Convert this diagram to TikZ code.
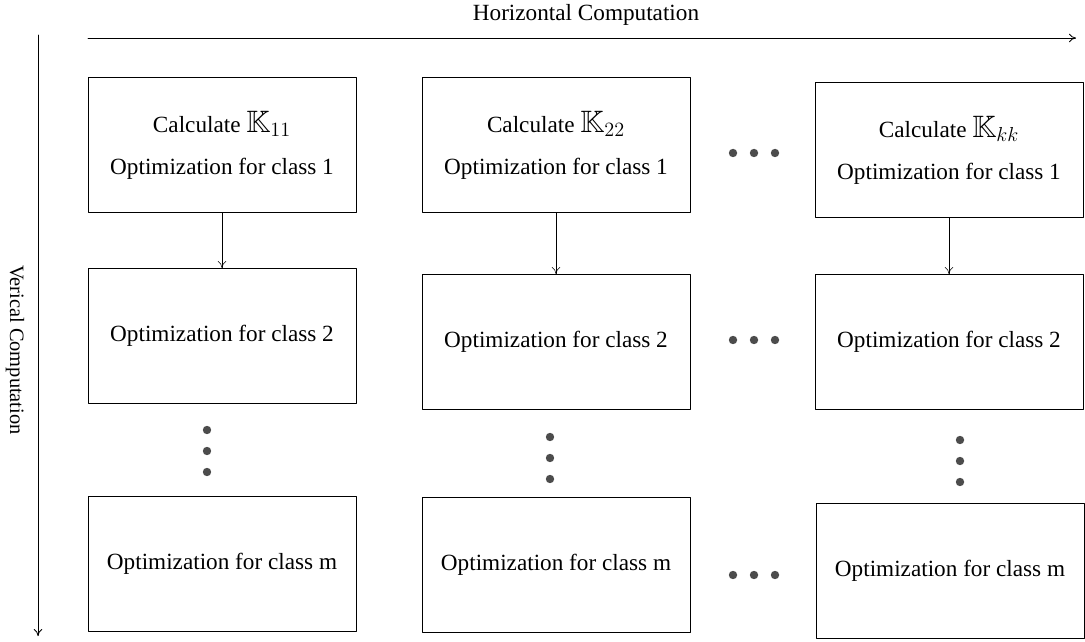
\documentclass[tikz,border=0pt]{standalone}
\usepackage{amsmath,amssymb}
\usepackage{fontspec}
\setmainfont{Liberation Serif}
\usetikzlibrary{positioning,arrows.meta}

\begin{document}
\begin{tikzpicture}[line join=round, line cap=round, x=0.025cm, y=-0.025cm,
    >={To[length=5pt,width=6pt]},
    box/.style={draw, line width=0.6pt, minimum width=6.7cm, minimum height=3.375cm,
      align=center, font=\fontsize{16.5}{30}\selectfont},
    lbl/.style={font=\fontsize{16.5}{20}\selectfont}]
    \useasboundingbox (0,0) rectangle (1085,642);
    % Parameters
    \def\dr{4.2}        % radius of the dots
    \def\dgap{21}       % gap between dots
    \newcommand\bigK[1]{{\fontsize{22}{22}\selectfont$\mathbb{K}_{#1}$}}

    % axes with their labels
    \node[lbl] (hlab) at (586,15) {Horizontal Computation};
    \node[lbl, font=\fontsize{14.5}{18}\selectfont, rotate=-90] (vlab) at (15,350) {Verical Computation};
    \coordinate (H0) at (88,38);
    \coordinate (H1) at (1076,38);
    \coordinate (V0) at (38,35);
    \coordinate (V1) at (38,636);
    \draw[->, line width=0.6pt] (H0) -- (H1);
    \draw[->, line width=0.6pt] (V0) -- (V1);

    % first row
    \node[box] (A1) at (222,145) {Calculate \bigK{11}\\Optimization for class 1};
    \node[box] (B1) at (556,145) {Calculate \bigK{22}\\Optimization for class 1};
    \node[box] (C1) at (949,150) {Calculate \bigK{kk}\\Optimization for class 1};

    % second row
    \node[box] (A2) at (222,336) {Optimization for class 2};
    \node[box] (B2) at (556,342) {Optimization for class 2};
    \node[box] (C2) at (949,342) {Optimization for class 2};

    % last row
    \node[box] (A3) at (222,564) {Optimization for class m};
    \node[box] (B3) at (556,565) {Optimization for class m};
    \node[box] (C3) at (950,571) {Optimization for class m};

    % down arrows
    \foreach \c in {A,B,C} {
      \draw[->] (\c1) -- (\c2);
    }

    % horizontal dots
    \foreach \y in {153,340,575} {
      \foreach \i in {0,1,2}
        \fill[black!70] ({733+\dgap*\i},\y) circle (\dr);
    }

    % vertical dots
    \foreach \x/\y in {207/430,550/437,960/440} {
      \foreach \i in {0,1,2}
        \fill[black!70] (\x,{\y+\dgap*\i}) circle (\dr);
    }
  \end{tikzpicture}
\end{document}
